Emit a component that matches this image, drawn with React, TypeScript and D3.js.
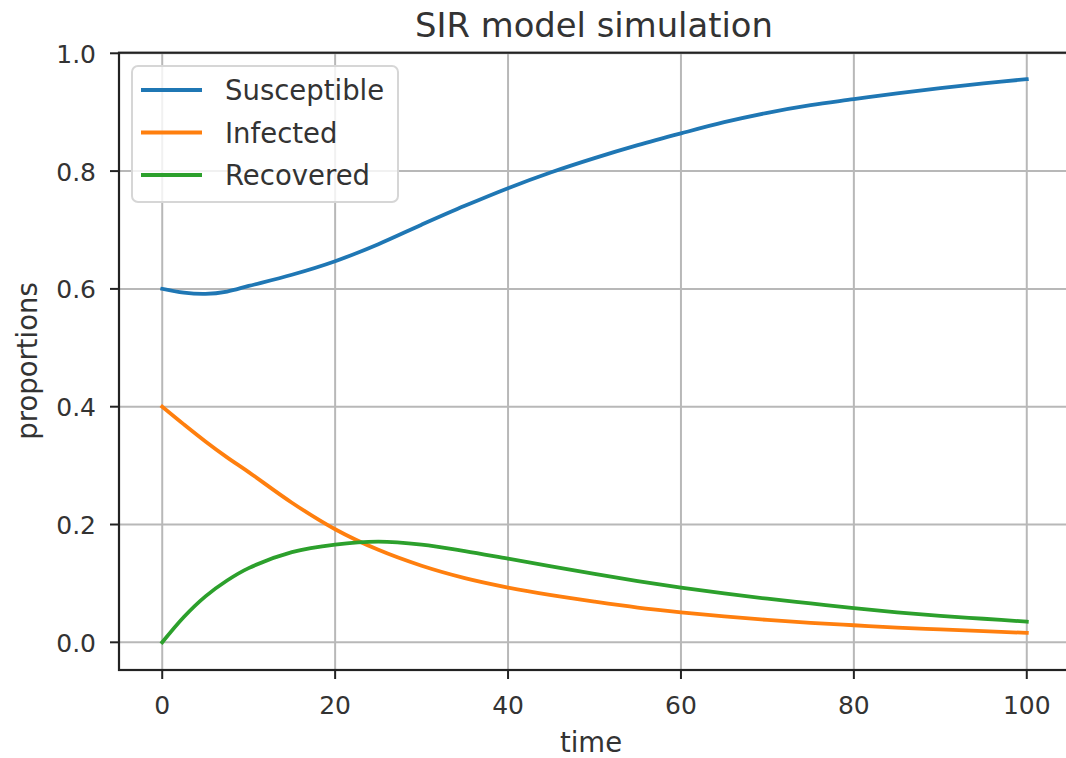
import React from "react";
import * as d3 from "d3";

// Simulation output sampled over time
const times = [0, 2.5, 5, 7.5, 10, 15, 20, 25, 30, 35, 40, 45, 50, 55, 60, 65, 70, 75, 80, 85, 90, 95, 100];
const susceptible = [0.600, 0.5935, 0.5915, 0.5955, 0.605, 0.624, 0.647, 0.676, 0.709, 0.741, 0.771, 0.798, 0.822, 0.844, 0.864, 0.883, 0.899, 0.912, 0.922, 0.932, 0.941, 0.949, 0.956];
const infected = [0.400, 0.370, 0.341, 0.314, 0.289, 0.237, 0.192, 0.157, 0.130, 0.109, 0.093, 0.080, 0.069, 0.059, 0.051, 0.044, 0.038, 0.033, 0.029, 0.025, 0.022, 0.019, 0.016];
const recovered = [0.000, 0.043, 0.078, 0.105, 0.126, 0.153, 0.166, 0.171, 0.166, 0.155, 0.142, 0.129, 0.116, 0.104, 0.093, 0.083, 0.074, 0.066, 0.058, 0.051, 0.045, 0.040, 0.035];

const seriesNames = ["Susceptible", "Infected", "Recovered"];
const seriesColors = ["#1f77b4", "#ff7f0e", "#2ca02c"];
const xTicks = [0, 20, 40, 60, 80, 100];
const yTicks = [0.0, 0.2, 0.4, 0.6, 0.8, 1.0];

const W = 1066;
const H = 758;
const FONT = "DejaVu Sans, sans-serif";
const TEXT = "#333";

export default function App() {
  const x = d3.scaleLinear().domain([-5, 105]).range([119, 1070]);
  const y = d3.scaleLinear().domain([-0.047, 1.001]).range([670, 52.7]);

  const series = [susceptible, infected, recovered];
  const line = d3
    .line<[number, number]>()
    .x((d) => x(d[0]))
    .y((d) => y(d[1]))
    .curve(d3.curveCatmullRom.alpha(0.5));

  const [x0, x1] = x.range();
  const [y0, y1] = y.range();

  return (
    <svg
      width={W}
      height={H}
      style={{ position: "absolute", left: 0, top: 0, background: "#fff" }}
      fontFamily={FONT}
    >
      <rect x={0} y={0} width={W} height={H} fill="#fff" />
      {/* grid */}
      {xTicks.map((t) => (
        <line key={"gx" + t} x1={x(t)} x2={x(t)} y1={y1} y2={y0} stroke="#b8b8b8" strokeWidth={2} />
      ))}
      {yTicks.map((t) => (
        <line key={"gy" + t} x1={x0} x2={x1} y1={y(t)} y2={y(t)} stroke="#b8b8b8" strokeWidth={2} />
      ))}
      {/* lines */}
      {series.map((vals, i) => (
        <path
          key={seriesNames[i]}
          d={line(times.map((t, j) => [t, vals[j]] as [number, number])) || ""}
          fill="none"
          stroke={seriesColors[i]}
          strokeWidth={3.8}
          strokeLinejoin="round"
          strokeLinecap="square"
        />
      ))}
      {/* frame */}
      <rect x={x0} y={y1} width={x1 - x0} height={y0 - y1} fill="none" stroke="#222" strokeWidth={2.2} />
      {/* x ticks */}
      {xTicks.map((t) => (
        <g key={"xt" + t}>
          <line x1={x(t)} x2={x(t)} y1={y0} y2={y0 + 9} stroke="#222" strokeWidth={2} />
          <text x={x(t)} y={714} textAnchor="middle" fontSize={25} fill={TEXT}>
            {d3.format("d")(t)}
          </text>
        </g>
      ))}
      {/* y ticks */}
      {yTicks.map((t) => (
        <g key={"yt" + t}>
          <line x1={x0 - 9} x2={x0} y1={y(t)} y2={y(t)} stroke="#222" strokeWidth={2} />
          <text x={96} y={y(t) + 9.5} textAnchor="end" fontSize={25} fill={TEXT}>
            {d3.format(".1f")(t)}
          </text>
        </g>
      ))}
      {/* labels */}
      <text x={594} y={37} textAnchor="middle" fontSize={33.8} fill={TEXT}>
        SIR model simulation
      </text>
      <text x={591} y={752} textAnchor="middle" fontSize={27.5} fill={TEXT}>
        time
      </text>
      <text
        transform={`translate(37, 361) rotate(-90)`}
        textAnchor="middle"
        fontSize={27.5}
        fill={TEXT}
      >
        proportions
      </text>
      {/* legend */}
      <rect x={132} y={66} width={266} height={136} rx={6} fill="#fff" fillOpacity={0.8} stroke="#d6d6d6" strokeWidth={2} />
      {seriesNames.map((name, i) => {
        const cy = 90 + i * 42.5;
        return (
          <g key={"lg" + name}>
            <line x1={141} x2={202} y1={cy} y2={cy} stroke={seriesColors[i]} strokeWidth={3.8} />
            <text x={225} y={cy + 10} fontSize={27.5} fill={TEXT}>
              {name}
            </text>
          </g>
        );
      })}
    </svg>
  );
}
